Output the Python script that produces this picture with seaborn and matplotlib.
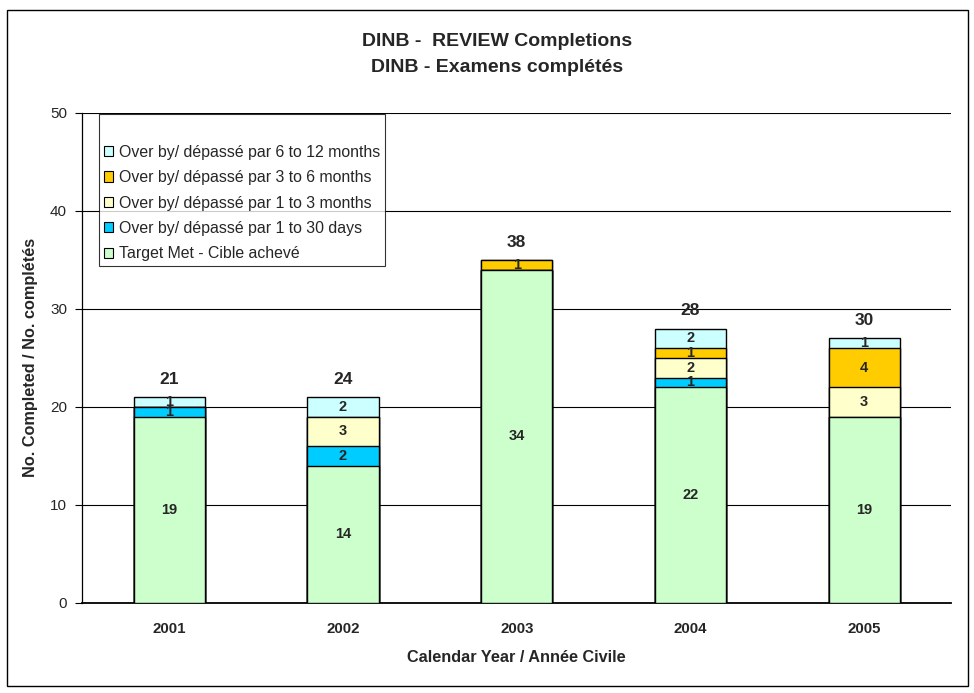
import numpy as np
import pandas as pd
import matplotlib
matplotlib.use("Agg")
import matplotlib.pyplot as plt
import seaborn as sns
from matplotlib.patches import Rectangle, Patch

years = ["2001", "2002", "2003", "2004", "2005"]
target_met = [19, 14, 34, 22, 19]
over_1_30_days = [1, 2, 0, 1, 0]
over_1_3_months = [0, 3, 0, 2, 3]
over_3_6_months = [0, 0, 1, 1, 4]
over_6_12_months = [1, 2, 0, 2, 1]
totals = [21, 24, 38, 28, 30]

series_names = ["Target Met - Cible achevé",
                "Over by/ dépassé par 1 to 30 days",
                "Over by/ dépassé par 1 to 3 months",
                "Over by/ dépassé par 3 to 6 months",
                "Over by/ dépassé par 6 to 12 months"]
colors = ["#CCFFCC", "#00CCFF", "#FFFFCC", "#FFCC00", "#CCFFFF"]

sns.set_style("white")
plt.rcParams["font.family"] = ["Liberation Sans", "DejaVu Sans"]

vals = np.array([target_met, over_1_30_days, over_1_3_months, over_3_6_months, over_6_12_months])
cum = np.cumsum(vals, axis=0)

fig = plt.figure(figsize=(9.74, 6.93), dpi=100)
ax = fig.add_axes([0.0845, 0.130, 0.892, 0.707])

# draw tallest cumulative layer first so the lower ones sit on top of it
for i in range(len(series_names) - 1, -1, -1):
    df = pd.DataFrame({"year": years, "value": cum[i]})
    sns.barplot(data=df, x="year", y="value", order=years, color=colors[i], saturation=1,
                edgecolor="black", linewidth=1, width=0.41, ax=ax, zorder=3)

for i in range(len(series_names)):
    for j in range(len(years)):
        v = vals[i][j]
        if v > 0:
            ax.text(j, cum[i][j] - v / 2, str(v), ha="center", va="center",
                    fontsize=10.5, fontweight="bold", zorder=5)

for j, t in enumerate(totals):
    ax.text(j, cum[-1][j] + 1.8, str(t), ha="center", va="center",
            fontsize=12.5, fontweight="bold", zorder=5)

ax.set_ylim(0, 50)
ax.set_xlim(-0.5, 4.5)
ax.set_yticks(range(0, 51, 10))
for y in range(10, 51, 10):
    ax.axhline(y, color="black", linewidth=0.8, zorder=1)

ax.set_xticks(range(5))
ax.set_xticks(np.arange(-0.5, 5, 1), minor=True)
ax.tick_params(axis="x", which="major", length=0, labelsize=10.8, pad=14)
ax.tick_params(axis="x", which="minor", length=5, direction="out", color="black")
ax.tick_params(axis="y", length=5, direction="out", labelsize=11, color="black", left=True, pad=6)
for lab in ax.get_xticklabels():
    lab.set_fontweight("bold")

for s in ["top", "right"]:
    ax.spines[s].set_visible(False)
ax.spines["left"].set_color("black")
ax.spines["bottom"].set_color("black")
ax.spines["left"].set_linewidth(0.9)
ax.spines["bottom"].set_linewidth(1.3)

ax.set_xlabel("Calendar Year / Année Civile", fontsize=11.7, fontweight="bold", labelpad=10)
ax.set_ylabel("No. Completed / No. complétés", fontsize=11.7, fontweight="bold", labelpad=9)

fig.text(0.51, 1 - 42 / 693, "DINB -  REVIEW Completions", ha="center", va="center",
         fontsize=14, fontweight="bold")
fig.text(0.51, 1 - 68 / 693, "DINB - Examens complétés", ha="center", va="center",
         fontsize=14, fontweight="bold")

handles = [Patch(facecolor=colors[i], edgecolor="black", linewidth=0.8) for i in range(4, -1, -1)]
labels = [series_names[i] for i in range(4, -1, -1)]
leg = ax.legend(handles, labels, loc="upper left", bbox_to_anchor=(0.019, 0.997),
                fontsize=11.4, title=" ", title_fontsize=12.5, frameon=True, fancybox=False,
                handlelength=0.6, handleheight=0.6, handletextpad=0.35, labelspacing=0.66,
                borderpad=0.3, borderaxespad=0)
leg.get_frame().set_edgecolor("black")
leg.get_frame().set_linewidth(0.8)
leg.set_zorder(6)

fig.patches.append(Rectangle((0.007, 0.010), 0.987, 0.976, transform=fig.transFigure,
                             fill=False, edgecolor="black", linewidth=1))

fig.savefig("out.png", dpi=100)
